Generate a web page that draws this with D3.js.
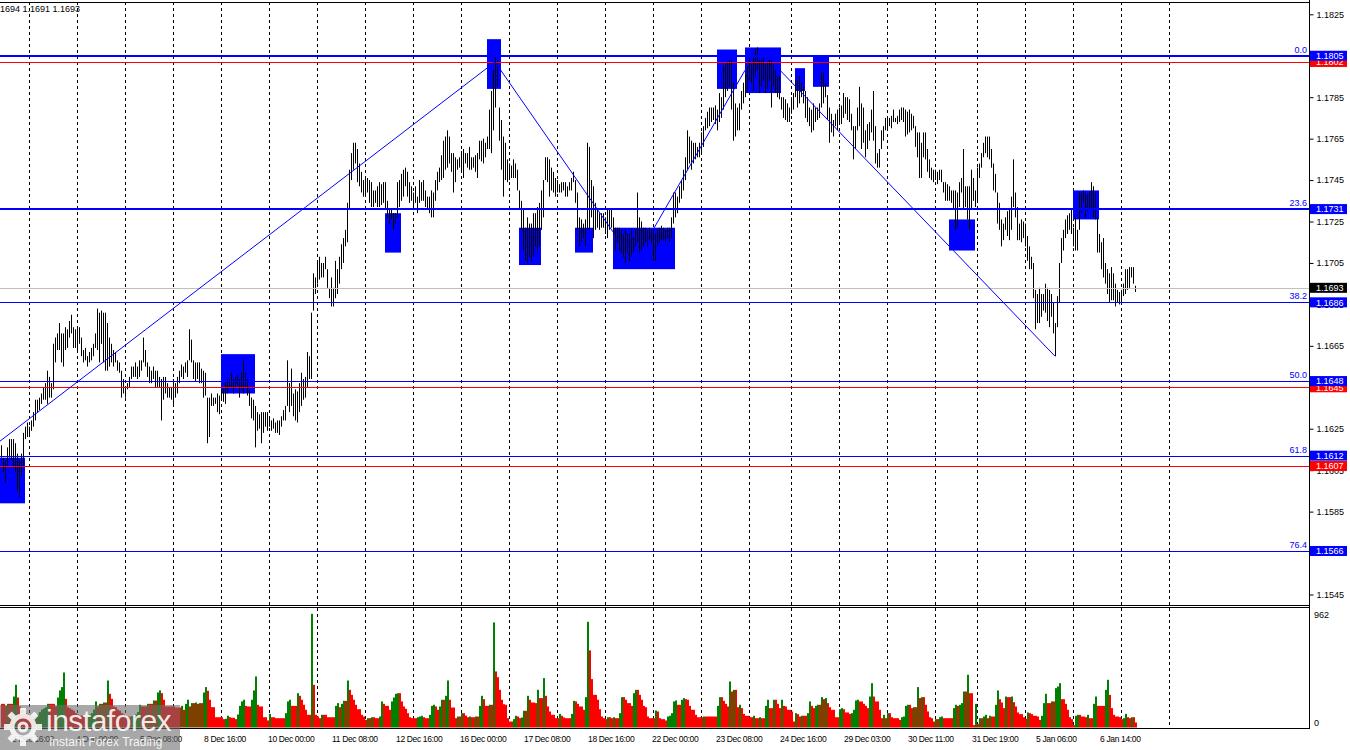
<!DOCTYPE html>
<html><head><meta charset="utf-8">
<script src="https://cdn.jsdelivr.net/npm/d3@7"></script>
<style>
body{margin:0;background:#fff}
svg{display:block}
text{font-family:"Liberation Sans",Arial,sans-serif}
</style>
</head><body>
<svg id="c" width="1350" height="750"></svg>
<script>
// ---- DATA (prices in units of 0.0001, i.e. 11693 = 1.1693) ----
const highs = [
11617,11611,11610,11616,11620,11620,11620,11618,11613,11610,
11613,11623,11626,11628,11626,11629,11633,11639,11639,11640,
11642,11645,11647,11653,11650,11647,11666,11669,11671,11676,
11671,11671,11674,11673,11677,11680,11674,11673,11674,11674,
11669,11663,11664,11660,11662,11664,11666,11671,11683,11681,
11682,11681,11681,11676,11669,11666,11663,11662,11658,11657,
11653,11649,11645,11647,11650,11655,11655,11657,11655,11658,
11658,11669,11663,11657,11655,11653,11655,11653,11653,11650,
11649,11650,11650,11647,11645,11645,11649,11647,11650,11653,
11656,11655,11657,11658,11673,11668,11658,11657,11657,11657,
11654,11653,11652,11640,11640,11642,11640,11640,11642,11641,
11644,11645,11647,11649,11649,11652,11649,11650,11651,11649,
11652,11658,11652,11649,11644,11640,11639,11636,11633,11632,
11633,11633,11633,11633,11631,11629,11630,11628,11629,11629,
11631,11634,11636,11658,11647,11654,11642,11644,11643,11647,
11652,11649,11650,11662,11660,11681,11700,11698,11706,11708,
11705,11705,11708,11702,11693,11698,11693,11706,11702,11708,
11714,11717,11721,11734,11750,11758,11763,11763,11760,11753,
11749,11745,11746,11746,11745,11744,11740,11740,11742,11744,
11743,11744,11744,11735,11731,11731,11729,11729,11744,11745,
11748,11750,11751,11749,11744,11742,11739,11742,11737,11745,
11744,11745,11740,11737,11737,11740,11739,11745,11749,11751,
11757,11764,11766,11769,11766,11758,11758,11756,11755,11756,
11759,11760,11758,11758,11761,11756,11756,11757,11758,11764,
11764,11765,11763,11766,11779,11788,11798,11805,11803,11780,
11774,11766,11763,11755,11753,11752,11755,11753,11750,11740,
11735,11731,11722,11727,11724,11724,11729,11729,11732,11734,
11740,11745,11756,11756,11755,11751,11749,11746,11745,11743,
11744,11744,11744,11742,11744,11746,11749,11745,11739,11727,
11726,11724,11726,11763,11761,11745,11742,11734,11731,11729,
11729,11729,11727,11731,11731,11731,11727,11722,11722,11722,
11721,11719,11721,11719,11719,11721,11717,11721,11739,11727,
11725,11722,11722,11721,11722,11721,11721,11719,11721,11722,
11723,11722,11721,11722,11722,11727,11739,11739,11737,11742,
11745,11750,11756,11769,11766,11764,11763,11763,11761,11763,
11768,11771,11775,11778,11780,11780,11780,11781,11779,11787,
11785,11800,11801,11802,11803,11803,11792,11782,11780,11782,
11788,11792,11796,11800,11804,11801,11804,11808,11809,11803,
11803,11804,11801,11802,11803,11803,11801,11798,11795,11795,
11785,11785,11784,11782,11780,11785,11787,11793,11793,11795,
11792,11790,11788,11785,11780,11779,11782,11780,11780,11782,
11797,11797,11792,11786,11780,11777,11774,11777,11779,11780,
11781,11787,11785,11785,11784,11777,11771,11771,11780,11790,
11782,11780,11769,11772,11773,11779,11788,11771,11758,11760,
11769,11771,11775,11775,11775,11776,11779,11775,11776,11779,
11780,11780,11779,11778,11779,11777,11776,11771,11768,11768,
11763,11768,11768,11760,11755,11751,11750,11750,11749,11750,
11750,11744,11744,11743,11742,11740,11740,11740,11739,11744,
11746,11760,11742,11742,11742,11750,11746,11740,11751,11753,
11758,11763,11766,11766,11766,11760,11753,11748,11739,11734,
11726,11724,11727,11730,11731,11737,11755,11739,11732,11724,
11726,11725,11724,11718,11713,11708,11705,11692,11690,11693,
11690,11690,11695,11693,11692,11690,11686,11676,11689,11705,
11717,11721,11726,11728,11729,11731,11722,11727,11721,11739,
11739,11740,11739,11738,11739,11744,11742,11739,11727,11719,
11715,11717,11705,11702,11700,11703,11700,11695,11692,11691,
11692,11695,11702,11702,11703,11703,11703,11694];

const lows = [
11611,11604,11599,11607,11611,11610,11607,11604,11595,11592,
11602,11607,11620,11621,11621,11624,11626,11629,11633,11634,
11637,11639,11639,11637,11640,11640,11644,11657,11663,11663,
11657,11655,11663,11664,11669,11671,11664,11664,11662,11666,
11660,11657,11658,11655,11657,11658,11660,11664,11663,11657,
11666,11657,11653,11653,11655,11657,11655,11657,11653,11652,
11640,11642,11640,11644,11645,11649,11650,11650,11649,11650,
11653,11657,11655,11650,11647,11647,11649,11645,11645,11645,
11629,11639,11642,11640,11640,11639,11636,11640,11642,11647,
11650,11649,11652,11650,11658,11657,11649,11648,11649,11647,
11647,11640,11641,11618,11621,11636,11636,11637,11633,11632,
11639,11638,11637,11642,11645,11645,11642,11645,11646,11640,
11644,11642,11645,11641,11636,11630,11629,11616,11624,11625,
11618,11623,11626,11624,11626,11624,11625,11623,11623,11622,
11626,11629,11629,11636,11633,11636,11631,11629,11628,11633,
11636,11639,11640,11645,11649,11649,11682,11690,11695,11697,
11698,11698,11702,11693,11688,11684,11684,11688,11690,11695,
11702,11705,11713,11715,11731,11745,11750,11753,11744,11742,
11739,11737,11738,11739,11734,11732,11732,11734,11732,11732,
11733,11734,11731,11727,11724,11726,11721,11724,11727,11732,
11735,11737,11742,11737,11734,11735,11731,11734,11729,11734,
11735,11735,11732,11731,11729,11727,11727,11735,11740,11744,
11745,11746,11750,11751,11753,11749,11739,11744,11750,11751,
11749,11746,11753,11751,11750,11750,11751,11749,11746,11755,
11754,11753,11756,11760,11760,11758,11769,11780,11790,11764,
11750,11737,11745,11744,11745,11746,11746,11746,11740,11731,
11721,11711,11706,11705,11708,11706,11708,11713,11710,11713,
11721,11727,11745,11744,11737,11740,11739,11737,11739,11739,
11739,11740,11737,11737,11740,11740,11744,11734,11721,11713,
11715,11717,11713,11721,11721,11727,11717,11721,11722,11721,
11722,11722,11719,11717,11721,11722,11719,11711,11715,11711,
11710,11708,11705,11710,11706,11708,11710,11713,11715,11710,
11711,11713,11715,11713,11716,11715,11706,11706,11713,11715,
11716,11716,11715,11717,11715,11717,11724,11727,11729,11734,
11736,11740,11745,11750,11753,11750,11753,11755,11756,11756,
11758,11761,11769,11770,11771,11773,11774,11772,11769,11773,
11775,11779,11785,11788,11790,11779,11764,11766,11769,11769,
11779,11782,11785,11787,11793,11792,11788,11795,11798,11787,
11790,11793,11787,11789,11793,11780,11790,11787,11785,11784,
11779,11775,11774,11773,11773,11777,11779,11785,11780,11782,
11785,11782,11775,11773,11771,11768,11769,11773,11774,11775,
11780,11782,11785,11774,11763,11768,11766,11771,11769,11773,
11772,11775,11777,11774,11773,11769,11755,11760,11769,11771,
11760,11763,11756,11760,11764,11768,11764,11753,11751,11751,
11760,11764,11769,11770,11771,11770,11773,11773,11772,11773,
11774,11773,11766,11767,11768,11769,11770,11761,11756,11746,
11746,11756,11755,11749,11746,11745,11744,11745,11743,11745,
11744,11739,11735,11735,11735,11734,11731,11721,11722,11732,
11739,11731,11732,11726,11721,11731,11735,11732,11735,11746,
11751,11756,11758,11756,11755,11751,11740,11739,11724,11721,
11713,11716,11721,11718,11716,11721,11732,11727,11716,11716,
11715,11717,11713,11706,11702,11702,11688,11673,11676,11676,
11679,11682,11681,11677,11674,11679,11671,11660,11674,11686,
11705,11711,11717,11719,11721,11719,11713,11711,11711,11721,
11729,11734,11727,11730,11731,11731,11727,11726,11710,11710,
11702,11698,11695,11690,11686,11687,11687,11684,11686,11685,
11686,11689,11690,11692,11693,11698,11695,11691];

const volumes = [
198,198,181,198,198,198,259,357,251,176,
150,140,120,110,100,95,90,100,110,130,150,160,170,
198,198,198,198,176,250,310,338,460,240,
170,160,150,140,120,110,100,100,95,90,100,110,120,150,
218,176,198,198,209,209,393,282,240,176,
170,150,140,120,110,100,95,90,95,100,110,130,
190,176,176,176,198,198,
198,226,226,293,310,287,232,176,176,176,
176,176,167,167,167,181,148,198,232,176,
204,204,209,198,204,204,293,338,307,232,
170,170,86,86,86,86,70,73,98,86,
81,81,70,109,181,218,232,181,176,176,
232,310,427,190,176,176,86,86,59,114,
86,86,78,78,78,78,78,120,218,232,
181,181,181,287,265,232,190,148,106,106,
951,357,106,92,78,106,106,106,86,86,
86,86,181,204,170,198,223,223,393,315,
273,232,190,153,153,106,92,64,78,78,
86,86,78,78,92,218,198,181,181,148,
218,251,282,287,287,218,176,156,120,86,
78,78,78,86,92,98,86,78,78,106,
181,190,176,148,176,232,232,265,393,232,
167,167,78,92,92,120,120,100,86,92,
86,86,92,92,181,265,237,181,181,190,
190,879,469,421,315,232,195,190,78,50,
50,70,98,92,78,84,140,140,265,232,
209,209,204,315,246,246,413,265,176,134,
106,106,78,78,114,98,84,78,78,78,
114,223,218,198,176,176,148,254,884,645,
405,273,273,232,153,92,78,70,86,86,
78,86,78,78,120,254,254,232,204,204,
181,287,315,315,273,232,181,170,92,78,
78,78,142,134,78,70,70,59,92,98,
120,218,226,190,190,232,246,237,232,181,
148,148,106,86,86,86,92,92,92,92,
92,92,92,181,254,254,223,198,176,385,
301,315,315,170,190,162,114,98,98,86,
86,98,78,78,86,78,78,181,232,162,
162,232,232,198,162,232,181,176,148,148,
134,50,120,112,92,98,98,98,120,218,
181,162,181,190,190,254,237,246,204,170,
148,148,86,86,153,162,153,126,126,114,
120,148,226,232,218,218,198,181,162,259,
371,259,218,218,148,78,106,78,120,120,
86,78,78,78,64,86,92,181,190,190,
162,170,170,338,246,254,254,190,134,86,
78,50,70,70,86,92,78,78,78,78,
78,162,190,181,190,204,301,301,441,287,
287,20,198,31,78,78,92,106,78,98,
92,92,190,310,237,209,162,259,254,254,
259,212,176,126,112,112,86,73,126,120,
112,98,98,92,64,98,204,282,204,204,
218,218,329,343,371,237,237,198,148,86,
70,20,98,106,106,92,92,86,106,78,
78,198,259,181,181,181,181,315,399,273,
162,106,92,92,86,70,78,114,86,78,
86,86,42];

const volumeMax = 962;
const priceTicks = [11545,11565,11585,11605,11625,11645,11665,11685,11705,11725,11745,11765,11785,11805,11825];
const dayGridBars = [14,38,62,86,110,134,158,182,206,230,254,278,302,326,350,374,395,419,443,467,488,512,536,560,584];
const timeLabelBars = [6,38,70,102,134,166,198,230,262,294,326,358,390,422,454,486,518,550];
const timeLabels = ["2 Dec 16:00","4 Dec 00:00","5 Dec 08:00","8 Dec 16:00","10 Dec 00:00","11 Dec 08:00","12 Dec 16:00","16 Dec 00:00","17 Dec 08:00","18 Dec 16:00","22 Dec 00:00","23 Dec 08:00","24 Dec 16:00","29 Dec 03:00","30 Dec 11:00","31 Dec 19:00","5 Jan 06:00","6 Jan 14:00"];
const fibRatios = ["0.0","23.6","38.2","50.0","61.8","76.4"];
const fibPrices = [11805,11731,11686,11648,11612,11566];
const redLevels = [11802,11645,11607];
const currentPrice = 11693;
const headerText = "1694 1.1691 1.1693";
// zones: [startBar, endBar, topPrice, bottomPrice]
const zoneStart = [-1,110,192,259,287,306,243,358,372,397,406,474,536];
const zoneEnd   = [12,127,200,270,296,337,250,368,390,402,414,487,549];
const zoneTop   = [11611,11661,11729,11722,11722,11722,11813,11808,11809,11799,11805,11726,11740];
const zoneBot   = [11589,11642,11710,11704,11710,11702,11789,11789,11787,11788,11790,11711,11726];
// trend lines: [bar0, price0, bar1, price1]
const trendBar0 = [-0.5,247,326,389.5];
const trendP0   = [11619,11802,11721,11798];
const trendBar1 = [247,306,372,527];
const trendP1   = [11802,11720,11798,11660];

// ---- DRAW ----
const svg = d3.select('#c');
const AX = 1309;           // right axis x
const MT = 2, MB = 605;    // main panel
const VT = 608, VB = 728;  // volume panel
const x = d3.scaleLinear().domain([0, highs.length - 1]).range([1, 1 + 2 * (highs.length - 1)]);
const y = d3.scaleLinear().domain([11545, 11825]).range([594.5, 14.3]);
const yv = d3.scaleLinear().domain([0, volumeMax]).range([727.5, 612.5]);
const fmt = d => (d / 10000).toFixed(4);
const px = v => Math.round(v) + 0.5;

const defs = svg.append('defs');
defs.append('clipPath').attr('id','mainClip').append('rect').attr('x',0).attr('y',MT).attr('width',AX).attr('height',MB-MT);
defs.append('clipPath').attr('id','volClip').append('rect').attr('x',0).attr('y',VT).attr('width',AX).attr('height',VB-VT);

const main = svg.append('g').attr('clip-path','url(#mainClip)');
const vol = svg.append('g').attr('clip-path','url(#volClip)');

// grid
[[main, MT, MB], [vol, VT, VB]].forEach(([g, t, b]) => {
  g.selectAll(null).data(dayGridBars).enter().append('line')
    .attr('x1', d => px(x(d))).attr('x2', d => px(x(d)))
    .attr('y1', t).attr('y2', b)
    .attr('stroke', '#000').attr('stroke-width', 1).attr('stroke-dasharray', '3,3');
});

// zones
main.selectAll(null).data(zoneStart).enter().append('rect')
  .attr('x', (d,i) => x(zoneStart[i]))
  .attr('width', (d,i) => x(zoneEnd[i]) - x(zoneStart[i]))
  .attr('y', (d,i) => y(zoneTop[i]))
  .attr('height', (d,i) => y(zoneBot[i]) - y(zoneTop[i]))
  .attr('fill', '#0000ff');

// price bars
main.selectAll(null).data(highs).enter().append('line')
  .attr('x1', (d,i) => px(x(i))).attr('x2', (d,i) => px(x(i)))
  .attr('y1', (d,i) => y(highs[i])).attr('y2', (d,i) => Math.max(y(lows[i]), y(highs[i]) + 1))
  .attr('stroke', '#000').attr('stroke-width', 1);

// horizontal levels
main.append('line').attr('x1',0).attr('x2',AX).attr('y1',px(y(currentPrice))).attr('y2',px(y(currentPrice)))
  .attr('stroke','#c0c0c0').attr('stroke-width',1);
main.selectAll(null).data(redLevels).enter().append('line')
  .attr('x1',0).attr('x2',AX).attr('y1',d=>px(y(d))).attr('y2',d=>px(y(d)))
  .attr('stroke','#ff0000').attr('stroke-width',1);
main.selectAll(null).data(fibPrices).enter().append('line')
  .attr('x1',0).attr('x2',AX)
  .attr('y1',(d,i)=> i<2 ? Math.round(y(d)) : px(y(d)))
  .attr('y2',(d,i)=> i<2 ? Math.round(y(d)) : px(y(d)))
  .attr('stroke','#0000ff').attr('stroke-width',(d,i)=> i<2 ? 2 : 1);

// trend lines
main.selectAll(null).data(trendBar0).enter().append('line')
  .attr('x1',(d,i)=>x(trendBar0[i])).attr('y1',(d,i)=>y(trendP0[i]))
  .attr('x2',(d,i)=>x(trendBar1[i])).attr('y2',(d,i)=>y(trendP1[i]))
  .attr('stroke','#0000ff').attr('stroke-width',1);

// fib labels
svg.selectAll(null).data(fibPrices).enter().append('text')
  .attr('x', AX - 2).attr('y', d => y(d) - 3)
  .attr('text-anchor','end').attr('font-size', 9).attr('fill','#0000ff')
  .text((d,i) => fibRatios[i]);

// volumes
vol.selectAll(null).data(volumes).enter().append('rect')
  .attr('x', (d,i) => x(i)).attr('width', 2)
  .attr('y', d => yv(d)).attr('height', d => yv(0) - yv(d))
  .attr('fill', (d,i) => (i > 0 && d > volumes[i-1]) ? '#008000' : '#ff0000');

// frames
const frame = svg.append('g').attr('stroke','#000').attr('stroke-width',1);
frame.append('line').attr('x1',0).attr('x2',AX).attr('y1',MT+0.5).attr('y2',MT+0.5);
frame.append('line').attr('x1',0).attr('x2',AX).attr('y1',MB+0.5).attr('y2',MB+0.5);
frame.append('line').attr('x1',0).attr('x2',AX).attr('y1',VT-0.5).attr('y2',VT-0.5);
frame.append('line').attr('x1',0).attr('x2',AX+1).attr('y1',VB+0.5).attr('y2',VB+0.5);
frame.append('line').attr('x1',AX+0.5).attr('x2',AX+0.5).attr('y1',0).attr('y2',VB+1);

// right price axis
const axisG = svg.append('g').attr('transform', `translate(${AX+0.5},0)`)
  .call(d3.axisRight(y).tickValues(priceTicks).tickSize(4).tickPadding(3).tickFormat(fmt));
axisG.select('.domain').remove();
axisG.selectAll('text').attr('font-size', 9).attr('font-family','"Liberation Sans",Arial,sans-serif').attr('fill','#000');
axisG.selectAll('line').attr('stroke','#000');

// price label boxes
function labelBox(p, bg) {
  const cy = y(p);
  const g = svg.append('g');
  g.append('rect').attr('x', AX+1).attr('y', cy-5).attr('width', 37).attr('height', 10).attr('fill', bg);
  g.append('text').attr('x', AX+7).attr('y', cy+3.3).attr('font-size', 9).attr('fill','#fff').text(fmt(p));
}
redLevels.forEach(p => labelBox(p, '#ff0000'));
fibPrices.forEach(p => labelBox(p, '#0000ff'));
labelBox(currentPrice, '#000');

// volume axis
svg.append('text').attr('x', AX+5).attr('y', yv(volumeMax)+5).attr('font-size',9).attr('fill','#000').text(String(volumeMax));
svg.append('text').attr('x', AX+5).attr('y', yv(0)-2).attr('font-size',9).attr('fill','#000').text('0');

// time labels
svg.selectAll(null).data(timeLabelBars).enter().append('text')
  .attr('x', d => x(d) - 1).attr('y', 742)
  .attr('font-size', 8.5).attr('letter-spacing', -0.35).attr('fill','#000')
  .text((d,i) => timeLabels[i]);

// header
svg.append('text').attr('x', 0).attr('y', 12).attr('font-size', 9).attr('fill','#000').text(headerText);

// watermark logo
const logo = svg.append('g');
logo.append('rect').attr('x',0).attr('y',705).attr('width',180).attr('height',45).attr('fill','rgba(110,110,110,0.6)');
const gear = logo.append('g').attr('transform','translate(23,727)').attr('fill','none').attr('stroke','rgba(255,255,255,0.85)');
gear.append('circle').attr('r',11).attr('stroke-width',5);
gear.append('circle').attr('r',4).attr('stroke-width',3);
d3.range(8).forEach(k => {
  gear.append('rect').attr('x',-3).attr('y',-19).attr('width',6).attr('height',6)
    .attr('fill','rgba(255,255,255,0.85)').attr('stroke','none')
    .attr('transform',`rotate(${k*45})`);
});
logo.append('text').attr('x',46).attr('y',731).attr('font-size',30).attr('font-weight',300)
  .attr('font-family','"Open Sans",Lato,sans-serif').attr('fill','rgba(255,255,255,0.9)').attr('letter-spacing',-0.5).text('instaforex');
logo.append('text').attr('x',49).attr('y',746).attr('font-size',12)
  .attr('font-family','"Open Sans",Lato,sans-serif').attr('fill','rgba(255,255,255,0.9)').text('Instant Forex Trading');
</script>
</body></html>
